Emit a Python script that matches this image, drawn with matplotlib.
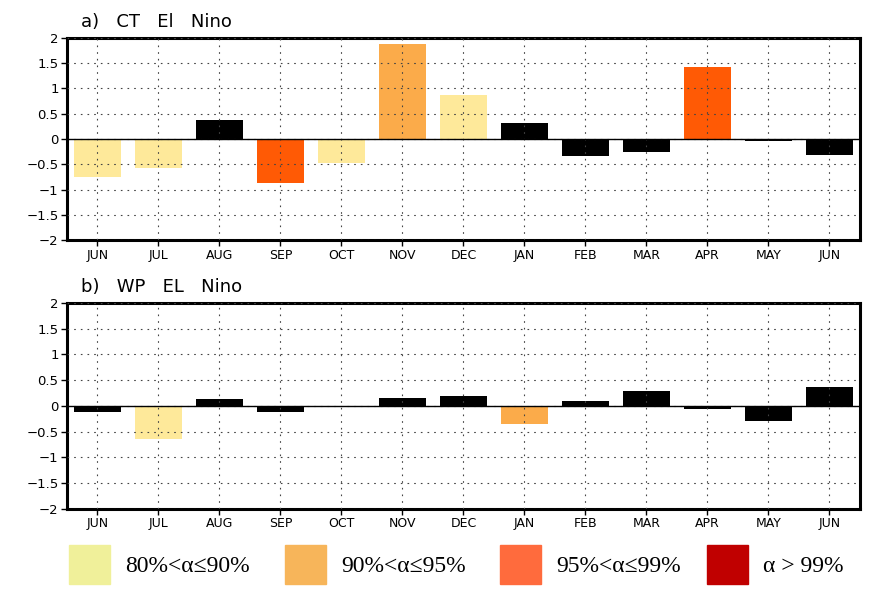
import matplotlib
matplotlib.use("Agg")
import matplotlib.pyplot as plt
from matplotlib.patches import Rectangle

months = ["JUN", "JUL", "AUG", "SEP", "OCT", "NOV", "DEC",
          "JAN", "FEB", "MAR", "APR", "MAY", "JUN"]

# a) CT El Nino
ct_values = [-0.75, -0.57, 0.37, -0.87, -0.48, 1.88, 0.87,
             0.31, -0.34, -0.25, 1.43, -0.04, -0.31]
ct_level = [1, 1, 0, 3, 1, 2, 1, 0, 0, 0, 3, 0, 0]

# b) WP El Nino
wp_values = [-0.12, -0.65, 0.13, -0.12, -0.03, 0.16, 0.20,
             -0.36, 0.10, 0.28, -0.07, -0.30, 0.37]
wp_level = [0, 1, 0, 0, 0, 0, 0, 2, 0, 0, 0, 0, 0]

yticks = [-2, -1.5, -1, -0.5, 0, 0.5, 1, 1.5, 2]
ytick_labels = ["\u22122", "\u22121.5", "\u22121", "\u22120.5", "0", "0.5", "1", "1.5", "2"]

legend_labels = ["80%<\u03b1\u226490%", "90%<\u03b1\u226495%", "95%<\u03b1\u226499%", "\u03b1 > 99%"]

# цвета столбцов: 0 - не значимо, 1..3 - уровни значимости
bar_colors = ["black", "#FEE99A", "#FBAB4A", "#FF5A05"]
legend_colors = ["#F0F09A", "#F7B55A", "#FF6B3D", "#C00000"]


def draw_panel(ax, values, levels, title):
    x = list(range(len(months)))
    ax.bar(x, values, width=0.76, color=[bar_colors[l] for l in levels], zorder=1)
    ax.axhline(0, color="black", lw=1.0, zorder=3)
    ax.set_xlim(-0.5, len(months) - 0.5)
    ax.set_ylim(-2, 2)
    ax.set_xticks(x)
    ax.set_xticklabels(months, fontsize=9)
    ax.set_yticks(yticks)
    ax.set_yticklabels(ytick_labels, fontsize=9.5)
    ax.grid(True, color="#444444", lw=0.8, linestyle=(0, (1.5, 4.5)), zorder=2)
    ax.set_axisbelow(False)
    ax.tick_params(direction="out", length=4, width=1, pad=2)
    for s in ax.spines.values():
        s.set_linewidth(2.2)
    ax.text(0.018, 1.035, title, transform=ax.transAxes, fontsize=13,
            ha="left", va="bottom")


fig = plt.figure(figsize=(8.81, 5.99), dpi=100)
ax1 = fig.add_axes([0.076, 0.599, 0.900, 0.338])
ax2 = fig.add_axes([0.076, 0.151, 0.900, 0.343])

draw_panel(ax1, ct_values, ct_level, "a)   CT   El   Nino")
draw_panel(ax2, wp_values, wp_level, "b)   WP   EL   Nino")

# легенда
patch_x = [69, 285, 500, 707]
for px, c, lab in zip(patch_x, legend_colors, legend_labels):
    fig.patches.append(Rectangle((px / 881, 1 - 584 / 599), 41 / 881, 39 / 599,
                                 transform=fig.transFigure, color=c))
    fig.text((px + 56) / 881, 1 - 567 / 599, lab, fontsize=17,
             family=["Liberation Serif", "DejaVu Serif"], ha="left", va="center")

fig.savefig("out.png", dpi=100)
